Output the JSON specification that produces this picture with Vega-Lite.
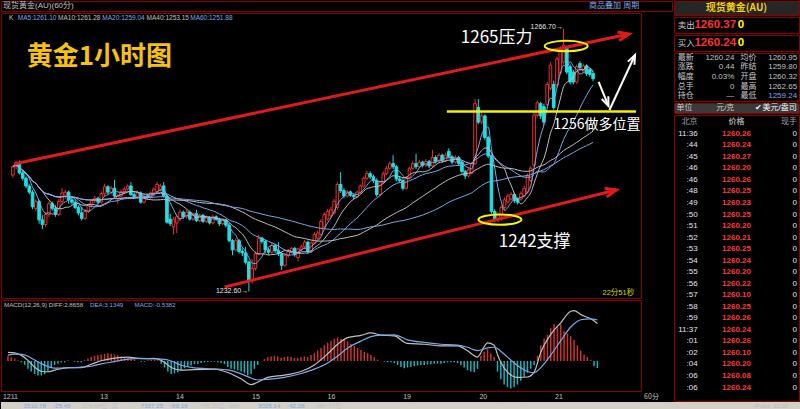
{
  "$schema": "https://vega.github.io/schema/vega-lite/v6.json",
  "background": "#000000",
  "padding": 0,
  "spacing": 0,
  "config": {
    "view": {"stroke": "#8c0000", "strokeWidth": 1},
    "concat": {"spacing": 0},
    "font": "Liberation Sans, Noto Sans CJK SC",
    "axis": {"labelFont": "Liberation Sans", "titleFont": "Noto Sans CJK SC"}
  },
  "datasets": {
    "bars": [
      {"i":0,"o":1247.7,"h":1249.0,"l":1247.4,"c":1248.8,"m":0.4},
      {"i":1,"o":1248.8,"h":1249.6,"l":1248.5,"c":1249.2,"m":0.3},
      {"i":2,"o":1249.2,"h":1249.6,"l":1247.8,"c":1248.0,"m":0.2},
      {"i":3,"o":1248.0,"h":1248.3,"l":1247.0,"c":1247.3,"m":0.05},
      {"i":4,"o":1247.3,"h":1247.5,"l":1246.0,"c":1246.3,"m":-0.1},
      {"i":5,"o":1246.3,"h":1246.6,"l":1245.2,"c":1245.5,"m":-0.3},
      {"i":6,"o":1245.5,"h":1245.8,"l":1243.3,"c":1243.6,"m":-0.6},
      {"i":7,"o":1243.4,"h":1244.6,"l":1243.0,"c":1244.3,"m":-0.8},
      {"i":8,"o":1244.3,"h":1244.5,"l":1241.4,"c":1241.9,"m":-1.0},
      {"i":9,"o":1241.9,"h":1242.5,"l":1240.7,"c":1241.3,"m":-1.1},
      {"i":10,"o":1241.3,"h":1242.9,"l":1241.0,"c":1242.6,"m":-1.1},
      {"i":11,"o":1242.6,"h":1244.3,"l":1242.3,"c":1244.0,"m":-1.0},
      {"i":12,"o":1244.0,"h":1244.3,"l":1243.1,"c":1243.4,"m":-0.8},
      {"i":13,"o":1243.4,"h":1243.8,"l":1242.3,"c":1242.6,"m":-0.5},
      {"i":14,"o":1242.6,"h":1244.6,"l":1242.4,"c":1244.3,"m":-0.3},
      {"i":15,"o":1244.3,"h":1246.0,"l":1244.0,"c":1245.4,"m":-0.2},
      {"i":16,"o":1245.0,"h":1245.8,"l":1244.6,"c":1245.5,"m":-0.1},
      {"i":17,"o":1245.5,"h":1245.7,"l":1244.0,"c":1244.5,"m":-0.1},
      {"i":18,"o":1244.5,"h":1244.9,"l":1243.9,"c":1244.2,"m":0.05},
      {"i":19,"o":1244.2,"h":1244.6,"l":1243.3,"c":1243.5,"m":0},
      {"i":20,"o":1243.5,"h":1243.8,"l":1242.5,"c":1242.8,"m":-0.05},
      {"i":21,"o":1242.8,"h":1243.6,"l":1241.8,"c":1242.1,"m":-0.1},
      {"i":22,"o":1242.1,"h":1243.3,"l":1241.9,"c":1243.0,"m":-0.1},
      {"i":23,"o":1243.0,"h":1244.0,"l":1242.8,"c":1243.8,"m":0.1},
      {"i":24,"o":1243.8,"h":1244.6,"l":1243.5,"c":1244.4,"m":0.2},
      {"i":25,"o":1244.4,"h":1245.0,"l":1244.1,"c":1244.7,"m":0.3},
      {"i":26,"o":1244.7,"h":1244.9,"l":1243.9,"c":1244.2,"m":0.4},
      {"i":27,"o":1244.2,"h":1245.6,"l":1244.0,"c":1245.3,"m":0.45},
      {"i":28,"o":1245.3,"h":1246.6,"l":1245.0,"c":1246.2,"m":0.5},
      {"i":29,"o":1246.2,"h":1246.4,"l":1245.2,"c":1245.5,"m":0.55},
      {"i":30,"o":1245.5,"h":1246.3,"l":1245.2,"c":1246.0,"m":0.6},
      {"i":31,"o":1246.0,"h":1247.1,"l":1244.8,"c":1245.0,"m":0.55},
      {"i":32,"o":1244.6,"h":1245.3,"l":1244.0,"c":1245.0,"m":0.5},
      {"i":33,"o":1245.0,"h":1245.8,"l":1244.8,"c":1245.6,"m":0.45},
      {"i":34,"o":1245.6,"h":1246.2,"l":1245.3,"c":1245.9,"m":0.35},
      {"i":35,"o":1245.9,"h":1246.5,"l":1245.7,"c":1246.3,"m":0.3},
      {"i":36,"o":1246.3,"h":1246.8,"l":1245.0,"c":1245.2,"m":0.25},
      {"i":37,"o":1245.2,"h":1245.5,"l":1244.6,"c":1244.9,"m":0.15},
      {"i":38,"o":1244.9,"h":1245.7,"l":1244.7,"c":1245.4,"m":0.1},
      {"i":39,"o":1245.4,"h":1245.6,"l":1244.0,"c":1244.2,"m":0},
      {"i":40,"o":1244.2,"h":1245.3,"l":1244.0,"c":1245.0,"m":-0.05},
      {"i":41,"o":1245.0,"h":1245.3,"l":1244.5,"c":1244.8,"m":-0.05},
      {"i":42,"o":1244.8,"h":1245.6,"l":1244.6,"c":1245.4,"m":0.05},
      {"i":43,"o":1245.4,"h":1246.1,"l":1245.2,"c":1245.9,"m":0.1},
      {"i":44,"o":1245.6,"h":1246.8,"l":1245.4,"c":1246.5,"m":0.1},
      {"i":45,"o":1245.8,"h":1246.6,"l":1245.6,"c":1246.3,"m":0.05},
      {"i":46,"o":1246.3,"h":1246.8,"l":1244.8,"c":1245.0,"m":-0.2},
      {"i":47,"o":1245.0,"h":1245.2,"l":1241.4,"c":1241.6,"m":-0.5},
      {"i":48,"o":1242.0,"h":1242.7,"l":1241.1,"c":1241.4,"m":-0.8},
      {"i":49,"o":1241.0,"h":1242.3,"l":1240.0,"c":1242.0,"m":-1.0},
      {"i":50,"o":1241.5,"h":1242.6,"l":1240.2,"c":1242.3,"m":-0.95},
      {"i":51,"o":1242.0,"h":1243.2,"l":1241.7,"c":1242.9,"m":-0.85},
      {"i":52,"o":1242.9,"h":1243.1,"l":1242.0,"c":1242.3,"m":-0.7},
      {"i":53,"o":1242.3,"h":1243.2,"l":1242.1,"c":1242.9,"m":-0.55},
      {"i":54,"o":1242.9,"h":1243.1,"l":1241.8,"c":1242.0,"m":-0.45},
      {"i":55,"o":1242.0,"h":1242.9,"l":1241.8,"c":1242.7,"m":-0.35},
      {"i":56,"o":1242.7,"h":1243.2,"l":1241.6,"c":1241.8,"m":-0.25},
      {"i":57,"o":1241.8,"h":1242.7,"l":1241.6,"c":1242.5,"m":-0.2},
      {"i":58,"o":1242.5,"h":1242.7,"l":1241.5,"c":1241.7,"m":-0.15},
      {"i":59,"o":1241.7,"h":1242.5,"l":1241.5,"c":1242.2,"m":-0.1},
      {"i":60,"o":1242.2,"h":1242.4,"l":1241.3,"c":1241.5,"m":-0.08},
      {"i":61,"o":1241.5,"h":1242.6,"l":1241.3,"c":1242.3,"m":-0.05},
      {"i":62,"o":1242.3,"h":1242.5,"l":1241.8,"c":1242.0,"m":-0.05},
      {"i":63,"o":1242.0,"h":1242.2,"l":1241.1,"c":1241.4,"m":-0.1},
      {"i":64,"o":1241.4,"h":1242.1,"l":1241.2,"c":1241.9,"m":-0.15},
      {"i":65,"o":1241.9,"h":1242.0,"l":1240.9,"c":1241.2,"m":-0.25},
      {"i":66,"o":1241.2,"h":1241.5,"l":1239.0,"c":1239.2,"m":-0.45},
      {"i":67,"o":1239.2,"h":1239.4,"l":1237.3,"c":1238.0,"m":-0.6},
      {"i":68,"o":1238.0,"h":1239.5,"l":1237.8,"c":1239.2,"m":-0.65},
      {"i":69,"o":1239.2,"h":1239.4,"l":1237.5,"c":1237.8,"m":-0.7},
      {"i":70,"o":1237.8,"h":1238.2,"l":1237.2,"c":1237.6,"m":-0.8},
      {"i":71,"o":1237.6,"h":1238.4,"l":1236.1,"c":1236.4,"m":-0.9},
      {"i":72,"o":1236.4,"h":1236.6,"l":1232.6,"c":1234.0,"m":-1.1},
      {"i":73,"o":1234.0,"h":1236.8,"l":1233.6,"c":1235.6,"m":-1.0},
      {"i":74,"o":1235.6,"h":1237.8,"l":1235.3,"c":1237.5,"m":-0.6},
      {"i":75,"o":1237.5,"h":1240.0,"l":1237.3,"c":1239.5,"m":-0.3},
      {"i":76,"o":1239.5,"h":1239.7,"l":1238.8,"c":1239.1,"m":0},
      {"i":77,"o":1239.1,"h":1239.3,"l":1237.6,"c":1238.0,"m":0.15},
      {"i":78,"o":1238.0,"h":1238.3,"l":1237.4,"c":1237.7,"m":0.3},
      {"i":79,"o":1237.7,"h":1238.9,"l":1237.5,"c":1238.6,"m":0.35},
      {"i":80,"o":1238.6,"h":1238.8,"l":1237.6,"c":1237.9,"m":0.4},
      {"i":81,"o":1237.9,"h":1239.0,"l":1237.2,"c":1237.5,"m":0.35},
      {"i":82,"o":1237.5,"h":1237.7,"l":1235.4,"c":1236.0,"m":0.25},
      {"i":83,"o":1236.0,"h":1237.5,"l":1235.8,"c":1237.3,"m":0.3},
      {"i":84,"o":1237.3,"h":1238.1,"l":1237.0,"c":1237.8,"m":0.35},
      {"i":85,"o":1237.8,"h":1238.4,"l":1237.6,"c":1238.2,"m":0.3},
      {"i":86,"o":1238.2,"h":1238.4,"l":1237.1,"c":1237.4,"m":0.25},
      {"i":87,"o":1237.0,"h":1238.3,"l":1236.5,"c":1238.1,"m":0.25},
      {"i":88,"o":1238.1,"h":1238.7,"l":1237.8,"c":1238.4,"m":0.3},
      {"i":89,"o":1238.4,"h":1239.3,"l":1238.1,"c":1239.0,"m":0.35},
      {"i":90,"o":1239.0,"h":1239.2,"l":1237.5,"c":1237.8,"m":0.3},
      {"i":91,"o":1237.8,"h":1239.1,"l":1237.6,"c":1238.9,"m":0.45},
      {"i":92,"o":1238.9,"h":1240.3,"l":1238.7,"c":1240.0,"m":0.6},
      {"i":93,"o":1239.5,"h":1240.5,"l":1239.3,"c":1240.2,"m":0.8},
      {"i":94,"o":1240.0,"h":1242.0,"l":1239.8,"c":1241.7,"m":1.0},
      {"i":95,"o":1241.0,"h":1242.9,"l":1240.8,"c":1242.6,"m":1.2},
      {"i":96,"o":1242.0,"h":1243.3,"l":1241.8,"c":1243.0,"m":1.4},
      {"i":97,"o":1242.5,"h":1243.6,"l":1242.2,"c":1243.2,"m":1.55},
      {"i":98,"o":1242.8,"h":1244.6,"l":1242.6,"c":1244.3,"m":1.7},
      {"i":99,"o":1243.5,"h":1246.8,"l":1243.2,"c":1246.5,"m":1.8},
      {"i":100,"o":1246.5,"h":1248.1,"l":1245.4,"c":1245.7,"m":1.7},
      {"i":101,"o":1245.7,"h":1246.0,"l":1244.7,"c":1245.0,"m":1.6},
      {"i":102,"o":1245.0,"h":1245.8,"l":1244.8,"c":1245.5,"m":1.5},
      {"i":103,"o":1245.5,"h":1245.7,"l":1244.9,"c":1245.1,"m":1.3},
      {"i":104,"o":1245.1,"h":1245.3,"l":1244.6,"c":1244.9,"m":1.15},
      {"i":105,"o":1244.9,"h":1245.7,"l":1244.7,"c":1245.5,"m":1.0},
      {"i":106,"o":1245.5,"h":1246.5,"l":1245.3,"c":1246.3,"m":0.85},
      {"i":107,"o":1246.3,"h":1247.5,"l":1246.1,"c":1247.3,"m":0.7},
      {"i":108,"o":1247.3,"h":1248.3,"l":1247.1,"c":1247.9,"m":0.6},
      {"i":109,"o":1247.9,"h":1248.2,"l":1247.2,"c":1247.5,"m":0.45},
      {"i":110,"o":1247.5,"h":1247.8,"l":1246.7,"c":1247.0,"m":0.3},
      {"i":111,"o":1247.0,"h":1247.3,"l":1244.9,"c":1245.2,"m":0.1},
      {"i":112,"o":1245.2,"h":1247.0,"l":1245.0,"c":1246.8,"m":0},
      {"i":113,"o":1246.8,"h":1248.2,"l":1246.6,"c":1247.9,"m":-0.05},
      {"i":114,"o":1247.9,"h":1248.9,"l":1247.7,"c":1248.6,"m":-0.1},
      {"i":115,"o":1248.6,"h":1249.5,"l":1248.4,"c":1249.2,"m":-0.1},
      {"i":116,"o":1249.2,"h":1250.3,"l":1248.5,"c":1248.8,"m":-0.15},
      {"i":117,"o":1248.8,"h":1249.0,"l":1246.9,"c":1247.2,"m":-0.3},
      {"i":118,"o":1247.2,"h":1247.6,"l":1246.7,"c":1247.0,"m":-0.45},
      {"i":119,"o":1247.0,"h":1247.3,"l":1245.7,"c":1246.0,"m":-0.55},
      {"i":120,"o":1246.0,"h":1247.6,"l":1245.8,"c":1247.4,"m":-0.5},
      {"i":121,"o":1247.4,"h":1248.8,"l":1247.2,"c":1248.6,"m":-0.45},
      {"i":122,"o":1248.6,"h":1249.5,"l":1248.4,"c":1249.2,"m":-0.4},
      {"i":123,"o":1249.2,"h":1250.5,"l":1248.5,"c":1248.8,"m":-0.35},
      {"i":124,"o":1248.8,"h":1249.7,"l":1248.6,"c":1249.4,"m":-0.3},
      {"i":125,"o":1249.4,"h":1249.6,"l":1248.7,"c":1249.0,"m":-0.3},
      {"i":126,"o":1249.0,"h":1249.8,"l":1248.8,"c":1249.5,"m":-0.25},
      {"i":127,"o":1249.5,"h":1249.7,"l":1248.6,"c":1248.9,"m":-0.25},
      {"i":128,"o":1248.9,"h":1251.0,"l":1248.7,"c":1250.0,"m":-0.2},
      {"i":129,"o":1250.0,"h":1250.3,"l":1249.2,"c":1249.5,"m":-0.2},
      {"i":130,"o":1249.5,"h":1250.6,"l":1249.3,"c":1250.3,"m":-0.2},
      {"i":131,"o":1250.3,"h":1250.5,"l":1249.3,"c":1249.6,"m":-0.15},
      {"i":132,"o":1249.6,"h":1250.6,"l":1249.4,"c":1250.3,"m":-0.1},
      {"i":133,"o":1250.8,"h":1251.2,"l":1249.9,"c":1250.1,"m":-0.1},
      {"i":134,"o":1250.1,"h":1250.3,"l":1249.1,"c":1249.4,"m":-0.1},
      {"i":135,"o":1249.4,"h":1250.3,"l":1249.2,"c":1250.0,"m":-0.15},
      {"i":136,"o":1250.0,"h":1250.2,"l":1248.9,"c":1249.2,"m":-0.3},
      {"i":137,"o":1249.4,"h":1249.6,"l":1247.9,"c":1248.2,"m":-0.5},
      {"i":138,"o":1248.2,"h":1248.4,"l":1247.2,"c":1247.6,"m":-0.7},
      {"i":139,"o":1247.6,"h":1248.6,"l":1247.4,"c":1248.4,"m":-0.8},
      {"i":140,"o":1248.0,"h":1249.4,"l":1247.8,"c":1249.2,"m":-0.85},
      {"i":141,"o":1249.2,"h":1257.6,"l":1249.0,"c":1257.0,"m":-0.6},
      {"i":142,"o":1256.5,"h":1257.6,"l":1254.3,"c":1254.6,"m":0.4},
      {"i":143,"o":1254.6,"h":1255.8,"l":1254.3,"c":1255.4,"m":0.7},
      {"i":144,"o":1255.4,"h":1255.6,"l":1252.3,"c":1252.6,"m":0.9},
      {"i":145,"o":1252.6,"h":1252.8,"l":1249.9,"c":1250.2,"m":0.6},
      {"i":146,"o":1250.2,"h":1250.4,"l":1242.7,"c":1243.0,"m":0.3},
      {"i":147,"o":1243.0,"h":1243.3,"l":1241.6,"c":1242.0,"m":-0.8},
      {"i":148,"o":1241.9,"h":1242.9,"l":1241.6,"c":1242.6,"m":-1.4},
      {"i":149,"o":1242.6,"h":1243.8,"l":1241.8,"c":1243.5,"m":-1.8},
      {"i":150,"o":1243.5,"h":1244.8,"l":1243.2,"c":1244.5,"m":-2.0},
      {"i":151,"o":1244.2,"h":1245.3,"l":1244.0,"c":1245.0,"m":-2.1},
      {"i":152,"o":1244.6,"h":1245.5,"l":1244.4,"c":1245.2,"m":-2.0},
      {"i":153,"o":1245.2,"h":1245.4,"l":1244.1,"c":1244.4,"m":-1.8},
      {"i":154,"o":1244.6,"h":1244.8,"l":1243.9,"c":1244.2,"m":-1.5},
      {"i":155,"o":1244.6,"h":1245.6,"l":1244.4,"c":1245.3,"m":-1.2},
      {"i":156,"o":1245.0,"h":1246.3,"l":1244.8,"c":1246.0,"m":-0.9},
      {"i":157,"o":1245.5,"h":1247.9,"l":1245.3,"c":1247.6,"m":-0.6},
      {"i":158,"o":1247.0,"h":1248.9,"l":1246.8,"c":1248.6,"m":-0.3},
      {"i":159,"o":1249.0,"h":1256.0,"l":1248.8,"c":1255.5,"m":0.4},
      {"i":160,"o":1255.5,"h":1257.4,"l":1255.2,"c":1257.1,"m":1.2},
      {"i":161,"o":1257.0,"h":1257.2,"l":1255.0,"c":1255.4,"m":1.7},
      {"i":162,"o":1256.6,"h":1257.0,"l":1254.2,"c":1254.6,"m":2.0},
      {"i":163,"o":1256.9,"h":1259.8,"l":1256.6,"c":1259.5,"m":2.5},
      {"i":164,"o":1259.0,"h":1262.4,"l":1258.7,"c":1262.0,"m":2.8},
      {"i":165,"o":1259.5,"h":1260.0,"l":1256.2,"c":1256.5,"m":2.6},
      {"i":166,"o":1259.4,"h":1263.1,"l":1259.1,"c":1262.8,"m":2.8},
      {"i":167,"o":1261.0,"h":1264.4,"l":1260.7,"c":1264.0,"m":2.3},
      {"i":168,"o":1262.4,"h":1266.7,"l":1262.1,"c":1264.6,"m":2.1},
      {"i":169,"o":1264.2,"h":1264.5,"l":1260.8,"c":1261.1,"m":1.9},
      {"i":170,"o":1261.8,"h":1262.1,"l":1259.5,"c":1259.8,"m":1.6},
      {"i":171,"o":1261.1,"h":1261.4,"l":1259.5,"c":1259.8,"m":1.2},
      {"i":172,"o":1259.8,"h":1262.1,"l":1259.6,"c":1261.8,"m":0.8},
      {"i":173,"o":1262.2,"h":1262.5,"l":1261.3,"c":1261.7,"m":0.5},
      {"i":174,"o":1261.3,"h":1262.2,"l":1261.0,"c":1261.9,"m":0.3},
      {"i":175,"o":1261.9,"h":1262.1,"l":1260.6,"c":1260.9,"m":0.1},
      {"i":176,"o":1261.4,"h":1261.6,"l":1260.5,"c":1260.8,"m":-0.4},
      {"i":177,"o":1260.9,"h":1261.2,"l":1259.9,"c":1260.24,"m":-0.54}
    ],
    "macd": [
      {"i":0,"DIFF":0.66,"DEA":0.45},{"i":2,"DIFF":0.62,"DEA":0.52},{"i":4,"DIFF":0.43,"DEA":0.5},
      {"i":6,"DIFF":0.05,"DEA":0.36},{"i":8,"DIFF":-0.47,"DEA":0.08},{"i":10,"DIFF":-0.78,"DEA":-0.2},
      {"i":12,"DIFF":-0.82,"DEA":-0.42},{"i":14,"DIFF":-0.7,"DEA":-0.55},{"i":18,"DIFF":-0.5,"DEA":-0.52},
      {"i":22,"DIFF":-0.5,"DEA":-0.47},{"i":25,"DIFF":-0.25,"DEA":-0.4},{"i":28,"DIFF":0.02,"DEA":-0.22},
      {"i":32,"DIFF":0.22,"DEA":-0.05},{"i":36,"DIFF":0.3,"DEA":0.14},{"i":40,"DIFF":0.18,"DEA":0.2},
      {"i":44,"DIFF":0.2,"DEA":0.17},{"i":47,"DIFF":-0.1,"DEA":0.12},{"i":49,"DIFF":-0.5,"DEA":0.0},
      {"i":52,"DIFF":-0.7,"DEA":-0.32},{"i":56,"DIFF":-0.65,"DEA":-0.52},{"i":62,"DIFF":-0.63,"DEA":-0.6},
      {"i":66,"DIFF":-0.88,"DEA":-0.68},{"i":70,"DIFF":-1.36,"DEA":-0.98},{"i":73,"DIFF":-1.8,"DEA":-1.3},
      {"i":75,"DIFF":-1.62,"DEA":-1.45},{"i":78,"DIFF":-1.25,"DEA":-1.4},{"i":83,"DIFF":-1.08,"DEA":-1.25},
      {"i":88,"DIFF":-0.8,"DEA":-0.95},{"i":92,"DIFF":-0.3,"DEA":-0.62},{"i":96,"DIFF":0.55,"DEA":-0.15},
      {"i":99,"DIFF":1.28,"DEA":0.38},{"i":102,"DIFF":1.79,"DEA":1.0},{"i":106,"DIFF":1.96,"DEA":1.52},
      {"i":109,"DIFF":2.15,"DEA":1.86},{"i":112,"DIFF":1.98,"DEA":1.97},{"i":116,"DIFF":1.92,"DEA":1.99},
      {"i":120,"DIFF":1.34,"DEA":1.62},{"i":125,"DIFF":1.28,"DEA":1.42},{"i":130,"DIFF":1.16,"DEA":1.28},
      {"i":135,"DIFF":1.16,"DEA":1.21},{"i":138,"DIFF":0.78,"DEA":1.05},{"i":141,"DIFF":0.3,"DEA":0.8},
      {"i":143,"DIFF":1.1,"DEA":0.92},{"i":144,"DIFF":1.38,"DEA":1.0},{"i":146,"DIFF":1.2,"DEA":1.05},
      {"i":147,"DIFF":0.5,"DEA":0.95},{"i":148,"DIFF":-0.1,"DEA":0.75},{"i":150,"DIFF":-0.85,"DEA":0.3},
      {"i":153,"DIFF":-1.25,"DEA":-0.35},{"i":156,"DIFF":-1.22,"DEA":-0.8},{"i":158,"DIFF":-0.85,"DEA":-0.9},
      {"i":160,"DIFF":0.66,"DEA":-0.5},{"i":163,"DIFF":2.04,"DEA":0.45},{"i":166,"DIFF":2.92,"DEA":1.55},
      {"i":169,"DIFF":3.8,"DEA":2.6},{"i":170,"DIFF":3.85,"DEA":2.85},{"i":172,"DIFF":3.55,"DEA":3.15},
      {"i":175,"DIFF":3.22,"DEA":3.22},{"i":177,"DIFF":2.8658,"DEA":3.1349}
    ],
    "lines": [
      {"g":"upper","i":0.3,"p":1249.15},{"g":"upper","i":188.0,"p":1266.04},
      {"g":"lower","i":64.6,"p":1233.18},{"g":"lower","i":184.1,"p":1245.78},
      {"g":"level","i":132.4,"p":1255.97},{"g":"level","i":190.1,"p":1255.97},
      {"g":"down","i":178.7,"p":1259.81},{"g":"down","i":181.7,"p":1256.69},
      {"g":"rise","i":182.0,"p":1256.17},{"g":"rise","i":189.8,"p":1263.31}
    ],
    "heads": [
      {"g":"upper","i":188.0,"p":1266.04},
      {"g":"lower","i":184.1,"p":1245.78},
      {"g":"down","i":181.7,"p":1256.69},
      {"g":"rise","i":189.8,"p":1263.31}
    ],
    "rings": [
      {"k":"top","i":168.8,"p":1264.48},
      {"k":"bottom","i":148.6,"p":1241.94}
    ],
    "notes": [
      {"k":"title","t":"黄金1小时图","i":26.4,"p":1262.99},
      {"k":"resist","t":"1265压力","i":147.6,"p":1265.46},
      {"k":"support","t":"1242支撑","i":159.2,"p":1239.02},
      {"k":"entry","t":"1256做多位置","i":178.2,"p":1254.22},
      {"k":"mark","t":"1266.70→","i":167.8,"p":1266.95},
      {"k":"mark","t":"1232.60→","i":71.8,"p":1232.66},
      {"k":"timer","t":"22分51秒","i":184.7,"p":1232.45}
    ],
    "malegend": [
      {"s":"K","t":"K","i":-1.2,"p":1268.1},
      {"s":"MA5","t":"MA5:1261.10","i":1.5,"p":1268.1},
      {"s":"MA10","t":"MA10:1261.28","i":13.8,"p":1268.1},
      {"s":"MA20","t":"MA20:1259.04","i":27.3,"p":1268.1},
      {"s":"MA40","t":"MA40:1253.15","i":40.8,"p":1268.1},
      {"s":"MA60","t":"MA60:1251.88","i":54.1,"p":1268.1}
    ],
    "ticks": [
      {"k":0,"tm":"北京","p":"价格","q":"现手"},
      {"k":1,"tm":"11:36","p":"1260.26","q":"0"},
      {"k":2,"tm":":44","p":"1260.24","q":"0"},
      {"k":3,"tm":":45","p":"1260.27","q":"0"},
      {"k":4,"tm":":46","p":"1260.20","q":"0"},
      {"k":5,"tm":":46","p":"1260.26","q":"0"},
      {"k":6,"tm":":48","p":"1260.25","q":"0"},
      {"k":7,"tm":":49","p":"1260.23","q":"0"},
      {"k":8,"tm":":50","p":"1260.25","q":"0"},
      {"k":9,"tm":":51","p":"1260.20","q":"0"},
      {"k":10,"tm":":52","p":"1260.21","q":"0"},
      {"k":11,"tm":":53","p":"1260.25","q":"0"},
      {"k":12,"tm":":54","p":"1260.24","q":"0"},
      {"k":13,"tm":":55","p":"1260.20","q":"0"},
      {"k":14,"tm":":56","p":"1260.22","q":"0"},
      {"k":15,"tm":":57","p":"1260.10","q":"0"},
      {"k":16,"tm":":58","p":"1260.25","q":"0"},
      {"k":17,"tm":":59","p":"1260.26","q":"0"},
      {"k":18,"tm":"11:37","p":"1260.24","q":"0"},
      {"k":19,"tm":":01","p":"1260.26","q":"0"},
      {"k":20,"tm":":02","p":"1260.10","q":"0"},
      {"k":21,"tm":":04","p":"1260.20","q":"0"},
      {"k":22,"tm":":06","p":"1260.08","q":"0"},
      {"k":23,"tm":":06","p":"1260.24","q":"0"}
    ]
  },
  "vconcat": [
    {
      "spacing": 0,
      "hconcat": [
        {
          "spacing": 0,
          "vconcat": [
            {
              "width": 671, "height": 10,
              "data": {"values": [{"g":"name","t":"现货黄金(AU)(60分)"},{"g":"tools","t":"商品叠加  周期"}]},
              "mark": {"type": "text", "align": "left", "baseline": "middle", "fontSize": 8},
              "encoding": {
                "x": {"field": "g", "type": "nominal", "bandPosition": 0, "scale": {"type": "band", "domain": ["name","tools"], "paddingInner": 0.862, "paddingOuter": 0.0035}, "axis": null},
                "text": {"field": "t"},
                "color": {"field": "g", "type": "nominal", "scale": {"domain": ["name","tools"], "range": ["#c0c0c0","#7fa7e8"]}, "legend": null}
              }
            },
            {
              "width": 640, "height": 285,
              "encoding": {
                "x": {"field": "i", "type": "quantitative", "scale": {"domain": [-2.1, 190.1], "nice": false, "zero": false}, "axis": null}
              },
              "layer": [
                {
                  "data": {"name": "bars"},
                  "mark": {"type": "rule", "strokeWidth": 1},
                  "encoding": {
                    "y": {"field": "l", "type": "quantitative", "title": null,
                      "scale": {"domain": [1231.75, 1268.77], "nice": false, "zero": false},
                      "axis": {"orient": "right", "values": [1235,1240,1245,1250,1255,1260,1265], "grid": true, "gridColor": "#4d0000", "domain": false, "ticks": false, "labelColor": "#c8c8c8", "labelFontSize": 8, "labelPadding": 4, "minExtent": 31, "maxExtent": 31}},
                    "y2": {"field": "h"},
                    "color": {"condition": {"test": "datum.c >= datum.o", "value": "#e8312f"}, "value": "#1fe0e3"}
                  }
                },
                {
                  "data": {"name": "bars"},
                  "mark": {"type": "bar", "size": 2.6, "strokeWidth": 1},
                  "encoding": {
                    "y": {"field": "o", "type": "quantitative", "scale": {"domain": [1231.75, 1268.77], "nice": false, "zero": false}, "axis": null},
                    "y2": {"field": "c"},
                    "fill": {"condition": {"test": "datum.c >= datum.o", "value": "#000000"}, "value": "#1fe0e3"},
                    "stroke": {"condition": {"test": "datum.c >= datum.o", "value": "#e8312f"}, "value": "#1fe0e3"}
                  }
                },
                {
                  "data": {"name": "bars"},
                  "transform": [
                    {"window": [{"op": "mean", "field": "c", "as": "MA5"}], "frame": [-4, 0], "sort": [{"field": "i"}]},
                    {"window": [{"op": "mean", "field": "c", "as": "MA10"}], "frame": [-9, 0], "sort": [{"field": "i"}]},
                    {"window": [{"op": "mean", "field": "c", "as": "MA20"}], "frame": [-19, 0], "sort": [{"field": "i"}]},
                    {"window": [{"op": "mean", "field": "c", "as": "MA40"}], "frame": [-39, 0], "sort": [{"field": "i"}]},
                    {"window": [{"op": "mean", "field": "c", "as": "MA60"}], "frame": [-59, 0], "sort": [{"field": "i"}]},
                    {"fold": ["MA5","MA10","MA20","MA40","MA60"], "as": ["s","v"]}
                  ],
                  "mark": {"type": "line", "strokeWidth": 1, "interpolate": "monotone"},
                  "encoding": {
                    "y": {"field": "v", "type": "quantitative", "scale": {"domain": [1231.75, 1268.77], "nice": false, "zero": false}, "axis": null},
                    "color": {"field": "s", "type": "nominal", "scale": {"domain": ["K","MA5","MA10","MA20","MA40","MA60"], "range": ["#d0d0d0","#d0d0d0","#d4d400","#d000d0","#10b010","#5a5ac8"]}, "legend": null}
                  }
                },
                {
                  "data": {"name": "lines"},
                  "transform": [{"filter": "datum.g == 'upper' || datum.g == 'lower'"}],
                  "mark": {"type": "line", "color": "#e01b1b", "strokeWidth": 3},
                  "encoding": {
                    "y": {"field": "p", "type": "quantitative", "scale": {"domain": [1231.75, 1268.77], "nice": false, "zero": false}, "axis": null},
                    "detail": {"field": "g"}
                  }
                },
                {
                  "data": {"name": "lines"},
                  "transform": [{"filter": "datum.g == 'level'"}],
                  "mark": {"type": "line", "color": "#f2f200", "strokeWidth": 2.5},
                  "encoding": {
                    "y": {"field": "p", "type": "quantitative", "scale": {"domain": [1231.75, 1268.77], "nice": false, "zero": false}, "axis": null}
                  }
                },
                {
                  "data": {"name": "lines"},
                  "transform": [{"filter": "datum.g == 'down' || datum.g == 'rise'"}],
                  "mark": {"type": "line", "color": "#ffffff", "strokeWidth": 2},
                  "encoding": {
                    "y": {"field": "p", "type": "quantitative", "scale": {"domain": [1231.75, 1268.77], "nice": false, "zero": false}, "axis": null},
                    "detail": {"field": "g"}
                  }
                },
                {
                  "data": {"name": "heads"},
                  "transform": [{"filter": "datum.g == 'upper'"}],
                  "mark": {"type": "point", "shape": "M-0.8,2L0,0L0.8,2", "filled": false, "stroke": "#e01b1b", "strokeWidth": 3, "size": 121, "angle": 78.2, "opacity": 1},
                  "encoding": {"y": {"field": "p", "type": "quantitative", "scale": {"domain": [1231.75, 1268.77], "nice": false, "zero": false}, "axis": null}}
                },
                {
                  "data": {"name": "heads"},
                  "transform": [{"filter": "datum.g == 'lower'"}],
                  "mark": {"type": "point", "shape": "M-0.8,2L0,0L0.8,2", "filled": false, "stroke": "#e01b1b", "strokeWidth": 3, "size": 121, "angle": 76.3, "opacity": 1},
                  "encoding": {"y": {"field": "p", "type": "quantitative", "scale": {"domain": [1231.75, 1268.77], "nice": false, "zero": false}, "axis": null}}
                },
                {
                  "data": {"name": "heads"},
                  "transform": [{"filter": "datum.g == 'down'"}],
                  "mark": {"type": "point", "shape": "M-0.8,2L0,0L0.8,2", "filled": false, "stroke": "#ffffff", "strokeWidth": 2, "size": 81, "angle": 157.4, "opacity": 1},
                  "encoding": {"y": {"field": "p", "type": "quantitative", "scale": {"domain": [1231.75, 1268.77], "nice": false, "zero": false}, "axis": null}}
                },
                {
                  "data": {"name": "heads"},
                  "transform": [{"filter": "datum.g == 'rise'"}],
                  "mark": {"type": "point", "shape": "M-0.8,2L0,0L0.8,2", "filled": false, "stroke": "#ffffff", "strokeWidth": 2, "size": 81, "angle": 25.3, "opacity": 1},
                  "encoding": {"y": {"field": "p", "type": "quantitative", "scale": {"domain": [1231.75, 1268.77], "nice": false, "zero": false}, "axis": null}}
                },
                {
                  "data": {"name": "rings"},
                  "mark": {"type": "point", "shape": "M-1,0A1,0.24,0,1,1,1,0A1,0.24,0,1,1,-1,0Z", "filled": false, "stroke": "#f5f500", "strokeWidth": 2, "size": 1849, "opacity": 1},
                  "encoding": {"y": {"field": "p", "type": "quantitative", "scale": {"domain": [1231.75, 1268.77], "nice": false, "zero": false}, "axis": null}}
                },
                {
                  "data": {"name": "notes"},
                  "transform": [{"filter": "datum.k == 'title'"}],
                  "mark": {"type": "text", "font": "Noto Sans CJK SC", "fontWeight": "bold", "fontSize": 26, "color": "#f5c20f", "align": "center", "baseline": "middle"},
                  "encoding": {"y": {"field": "p", "type": "quantitative", "scale": {"domain": [1231.75, 1268.77], "nice": false, "zero": false}, "axis": null}, "text": {"field": "t"}}
                },
                {
                  "data": {"name": "notes"},
                  "transform": [{"filter": "datum.k == 'resist'"}],
                  "mark": {"type": "text", "font": "Noto Sans CJK SC", "fontSize": 17, "color": "#ffffff", "align": "center", "baseline": "middle"},
                  "encoding": {"y": {"field": "p", "type": "quantitative", "scale": {"domain": [1231.75, 1268.77], "nice": false, "zero": false}, "axis": null}, "text": {"field": "t"}}
                },
                {
                  "data": {"name": "notes"},
                  "transform": [{"filter": "datum.k == 'support'"}],
                  "mark": {"type": "text", "font": "Noto Sans CJK SC", "fontSize": 17, "color": "#ffffff", "align": "center", "baseline": "middle"},
                  "encoding": {"y": {"field": "p", "type": "quantitative", "scale": {"domain": [1231.75, 1268.77], "nice": false, "zero": false}, "axis": null}, "text": {"field": "t"}}
                },
                {
                  "data": {"name": "notes"},
                  "transform": [{"filter": "datum.k == 'entry'"}],
                  "mark": {"type": "text", "font": "Noto Sans CJK SC", "fontSize": 14, "color": "#ffffff", "align": "center", "baseline": "middle"},
                  "encoding": {"y": {"field": "p", "type": "quantitative", "scale": {"domain": [1231.75, 1268.77], "nice": false, "zero": false}, "axis": null}, "text": {"field": "t"}}
                },
                {
                  "data": {"name": "notes"},
                  "transform": [{"filter": "datum.k == 'mark'"}],
                  "mark": {"type": "text", "fontSize": 7, "color": "#e6e6e6", "align": "right", "baseline": "middle"},
                  "encoding": {"y": {"field": "p", "type": "quantitative", "scale": {"domain": [1231.75, 1268.77], "nice": false, "zero": false}, "axis": null}, "text": {"field": "t"}}
                },
                {
                  "data": {"name": "notes"},
                  "transform": [{"filter": "datum.k == 'timer'"}],
                  "mark": {"type": "text", "fontSize": 7.5, "color": "#d8d800", "align": "center", "baseline": "middle"},
                  "encoding": {"y": {"field": "p", "type": "quantitative", "scale": {"domain": [1231.75, 1268.77], "nice": false, "zero": false}, "axis": null}, "text": {"field": "t"}}
                },
                {
                  "data": {"name": "malegend"},
                  "mark": {"type": "text", "fontSize": 6.5, "align": "left", "baseline": "middle"},
                  "encoding": {
                    "y": {"field": "p", "type": "quantitative", "scale": {"domain": [1231.75, 1268.77], "nice": false, "zero": false}, "axis": null},
                    "text": {"field": "t"},
                    "color": {"field": "s", "type": "nominal", "scale": {"domain": ["K","MA5","MA10","MA20","MA40","MA60"], "range": ["#d0d0d0","#d0d0d0","#d4d400","#d000d0","#10b010","#5a5ac8"]}, "legend": null}
                  }
                }
              ]
            },
            {
              "width": 640, "height": 91,
              "encoding": {
                "x": {"field": "i", "type": "quantitative", "title": "60分",
                  "scale": {"domain": [-2.1, 190.1], "nice": false, "zero": false},
                  "axis": {"orient": "bottom", "values": [0.6, 28.7, 51.5, 74.3, 97, 119.7, 142.6, 165.3],
                    "labelExpr": "datum.value < 10 ? '1211' : datum.value < 40 ? '13' : datum.value < 60 ? '14' : datum.value < 85 ? '15' : datum.value < 110 ? '16' : datum.value < 130 ? '19' : datum.value < 150 ? '20' : '21'",
                    "grid": false, "domain": false, "ticks": false, "labelColor": "#c0c0c0", "labelFontSize": 7, "labelPadding": 1,
                    "titleX": 650, "titleY": 5, "titleBaseline": "middle", "titleAlign": "center", "titleColor": "#c0c0c0", "titleFontSize": 7, "titleFontWeight": "normal"}}
              },
              "layer": [
                {
                  "data": {"name": "bars"},
                  "mark": {"type": "rule", "strokeWidth": 1.5},
                  "encoding": {
                    "y": {"field": "m", "type": "quantitative", "title": null,
                      "scale": {"domain": [-2.29, 4.66], "nice": false, "zero": false},
                      "axis": {"orient": "right", "values": [0, 2], "labelExpr": "datum.value == 0 ? '0' : format(datum.value, '.1f')", "grid": true, "gridColor": "#4d0000", "domain": false, "ticks": false, "labelColor": "#c8c8c8", "labelFontSize": 8, "labelPadding": 4, "minExtent": 31, "maxExtent": 31}},
                    "y2": {"datum": 0},
                    "color": {"condition": {"test": "datum.m > 0", "value": "#c83232"}, "value": "#1fb0b8"}
                  }
                },
                {
                  "data": {"name": "macd"},
                  "transform": [{"fold": ["DIFF","DEA"], "as": ["s","v"]}],
                  "mark": {"type": "line", "strokeWidth": 1.2, "interpolate": "monotone"},
                  "encoding": {
                    "y": {"field": "v", "type": "quantitative", "scale": {"domain": [-2.29, 4.66], "nice": false, "zero": false}, "axis": null},
                    "color": {"field": "s", "type": "nominal", "scale": {"domain": ["DIFF","DEA","MH","MV"], "range": ["#d0d0d0","#d8d800","#d0d0d0","#c8c8c8"]}, "legend": null}
                  }
                },
                {
                  "data": {"values": [
                    {"s":"MH","t":"MACD(12,26,9) DIFF:2.8658","i":-1.2,"v":4.28},
                    {"s":"DEA","t":"DEA:3.1349","i":24.6,"v":4.28},
                    {"s":"MV","t":"MACD:-0.5382","i":38.0,"v":4.28}
                  ]},
                  "mark": {"type": "text", "fontSize": 6.2, "align": "left", "baseline": "middle"},
                  "encoding": {
                    "y": {"field": "v", "type": "quantitative", "scale": {"domain": [-2.29, 4.66], "nice": false, "zero": false}, "axis": null},
                    "text": {"field": "t"},
                    "color": {"field": "s", "type": "nominal", "scale": {"domain": ["DIFF","DEA","MH","MV"], "range": ["#d0d0d0","#d8d800","#d0d0d0","#c8c8c8"]}, "legend": null}
                  }
                }
              ]
            }
          ]
        },
        {
          "spacing": 0,
          "vconcat": [
            {
              "width": 125, "height": 14,
              "view": {"fill": "#262626", "stroke": "#8c0000"},
              "data": {"values": [{"t": "现货黄金(AU)"}]},
              "mark": {"type": "text", "font": "Noto Sans CJK SC", "fontWeight": "bold", "fontSize": 10, "color": "#f5d000", "align": "center", "baseline": "middle"},
              "encoding": {"text": {"field": "t"}}
            },
            {
              "width": 125, "height": 16,
              "data": {"values": [{"lab": "卖出", "price": "1260.37", "qty": "0"}]},
              "layer": [
                {"mark": {"type": "text", "fontSize": 8.5, "color": "#c8c8c8", "align": "left", "baseline": "middle"},
                 "encoding": {"x": {"field": "lab", "type": "nominal", "bandPosition": 0.03, "scale": {"type": "band", "paddingInner": 0, "paddingOuter": 0}, "axis": null}, "text": {"field": "lab"}}},
                {"mark": {"type": "text", "fontSize": 11.5, "fontWeight": "bold", "color": "#ff3030", "align": "center", "baseline": "middle"},
                 "encoding": {"x": {"field": "lab", "type": "nominal", "bandPosition": 0.33, "scale": {"type": "band", "paddingInner": 0, "paddingOuter": 0}, "axis": null}, "text": {"field": "price"}}},
                {"mark": {"type": "text", "fontSize": 11.5, "fontWeight": "bold", "color": "#ffff00", "align": "left", "baseline": "middle"},
                 "encoding": {"x": {"field": "lab", "type": "nominal", "bandPosition": 0.51, "scale": {"type": "band", "paddingInner": 0, "paddingOuter": 0}, "axis": null}, "text": {"field": "qty"}}}
              ]
            },
            {
              "width": 125, "height": 16,
              "data": {"values": [{"lab": "买入", "price": "1260.24", "qty": "0"}]},
              "layer": [
                {"mark": {"type": "text", "fontSize": 8.5, "color": "#c8c8c8", "align": "left", "baseline": "middle"},
                 "encoding": {"x": {"field": "lab", "type": "nominal", "bandPosition": 0.03, "scale": {"type": "band", "paddingInner": 0, "paddingOuter": 0}, "axis": null}, "text": {"field": "lab"}}},
                {"mark": {"type": "text", "fontSize": 11.5, "fontWeight": "bold", "color": "#ff3030", "align": "center", "baseline": "middle"},
                 "encoding": {"x": {"field": "lab", "type": "nominal", "bandPosition": 0.33, "scale": {"type": "band", "paddingInner": 0, "paddingOuter": 0}, "axis": null}, "text": {"field": "price"}}},
                {"mark": {"type": "text", "fontSize": 11.5, "fontWeight": "bold", "color": "#ffff00", "align": "left", "baseline": "middle"},
                 "encoding": {"x": {"field": "lab", "type": "nominal", "bandPosition": 0.51, "scale": {"type": "band", "paddingInner": 0, "paddingOuter": 0}, "axis": null}, "text": {"field": "qty"}}}
              ]
            },
            {
              "width": 125, "height": 48,
              "data": {"values": [
                {"r":0,"col":"A","lab":"最新","val":"1260.24","d":"up"},
                {"r":0,"col":"B","lab":"均价","val":"1260.95","d":"up"},
                {"r":1,"col":"A","lab":"涨跌","val":"0.44","d":"up"},
                {"r":1,"col":"B","lab":"昨结","val":"1259.80","d":"none"},
                {"r":2,"col":"A","lab":"幅度","val":"0.03%","d":"up"},
                {"r":2,"col":"B","lab":"开盘","val":"1260.32","d":"up"},
                {"r":3,"col":"A","lab":"总手","val":"0","d":"none"},
                {"r":3,"col":"B","lab":"最高","val":"1262.65","d":"up"},
                {"r":4,"col":"A","lab":"持仓","val":"—","d":"none"},
                {"r":4,"col":"B","lab":"最低","val":"1259.24","d":"down"}
              ]},
              "layer": [
                {"mark": {"type": "text", "fontSize": 8, "color": "#c8c8c8", "align": "left", "baseline": "middle"},
                 "encoding": {
                   "x": {"field": "col", "type": "nominal", "bandPosition": 0.04, "scale": {"type": "band", "paddingInner": 0.05, "paddingOuter": 0.02}, "axis": null},
                   "y": {"field": "r", "type": "ordinal", "scale": {"type": "point", "padding": 0.5}, "axis": null},
                   "text": {"field": "lab"}}},
                {"mark": {"type": "text", "fontSize": 8, "align": "right", "baseline": "middle"},
                 "encoding": {
                   "x": {"field": "col", "type": "nominal", "bandPosition": 0.99, "scale": {"type": "band", "paddingInner": 0.05, "paddingOuter": 0.02}, "axis": null},
                   "y": {"field": "r", "type": "ordinal", "scale": {"type": "point", "padding": 0.5}, "axis": null},
                   "text": {"field": "val"},
                   "color": {"field": "d", "type": "nominal", "scale": {"domain": ["up","down","none"], "range": ["#ff3b3b","#22e022","#e6e6e6"]}, "legend": null}}}
              ]
            },
            {
              "width": 125, "height": 10,
              "view": {"fill": "#3a3a3a", "stroke": "#8c0000"},
              "data": {"values": [{"col":"a","t":"单位"},{"col":"b","t":"元/克"},{"col":"c","t":"✔美元/盎司"}]},
              "layer": [
                {"transform": [{"filter": "datum.col == 'a'"}],
                 "mark": {"type": "text", "fontSize": 8, "color": "#c8c8c8", "align": "center", "baseline": "middle"},
                 "encoding": {"x": {"field": "col", "type": "nominal", "bandPosition": 0.25, "scale": {"type": "band", "domain": ["a","b","c"], "paddingInner": 0, "paddingOuter": 0}, "axis": null}, "text": {"field": "t"}}},
                {"transform": [{"filter": "datum.col == 'b'"}],
                 "mark": {"type": "text", "fontSize": 8, "color": "#c8c8c8", "align": "center", "baseline": "middle"},
                 "encoding": {"x": {"field": "col", "type": "nominal", "bandPosition": 0.23, "scale": {"type": "band", "domain": ["a","b","c"], "paddingInner": 0, "paddingOuter": 0}, "axis": null}, "text": {"field": "t"}}},
                {"transform": [{"filter": "datum.col == 'c'"}],
                 "mark": {"type": "text", "fontSize": 8, "color": "#eeeeee", "align": "center", "baseline": "middle"},
                 "encoding": {"x": {"field": "col", "type": "nominal", "bandPosition": 0.45, "scale": {"type": "band", "domain": ["a","b","c"], "paddingInner": 0, "paddingOuter": 0}, "axis": null}, "text": {"field": "t"}}}
              ]
            },
            {
              "width": 125, "height": 286,
              "data": {"name": "ticks"},
              "transform": [{"fold": ["tm","p","q"], "as": ["col","t"]}],
              "layer": [
                {"transform": [{"filter": "datum.col == 'tm'"}],
                 "mark": {"type": "text", "fontSize": 8, "align": "right", "baseline": "middle"},
                 "encoding": {
                   "x": {"field": "col", "type": "nominal", "bandPosition": 0.567, "scale": {"type": "band", "domain": ["tm","p","q"], "paddingInner": 0, "paddingOuter": 0}, "axis": null},
                   "y": {"field": "k", "type": "ordinal", "scale": {"type": "point", "padding": 0.9, "align": 0.35}, "axis": null},
                   "text": {"field": "t"},
                   "color": {"condition": {"test": "datum.k == 0", "value": "#a0a0a0"}, "value": "#e6e6e6"}}},
                {"transform": [{"filter": "datum.col == 'p'"}],
                 "mark": {"type": "text", "fontSize": 8, "fontWeight": "bold", "align": "center", "baseline": "middle"},
                 "encoding": {
                   "x": {"field": "col", "type": "nominal", "bandPosition": 0.5, "scale": {"type": "band", "domain": ["tm","p","q"], "paddingInner": 0, "paddingOuter": 0}, "axis": null},
                   "y": {"field": "k", "type": "ordinal", "scale": {"type": "point", "padding": 0.9, "align": 0.35}, "axis": null},
                   "text": {"field": "t"},
                   "color": {"condition": {"test": "datum.k == 0", "value": "#a0a0a0"}, "value": "#ff3b3b"}}},
                {"transform": [{"filter": "datum.col == 'q'"}],
                 "mark": {"type": "text", "fontSize": 8, "align": "right", "baseline": "middle"},
                 "encoding": {
                   "x": {"field": "col", "type": "nominal", "bandPosition": 0.95, "scale": {"type": "band", "domain": ["tm","p","q"], "paddingInner": 0, "paddingOuter": 0}, "axis": null},
                   "y": {"field": "k", "type": "ordinal", "scale": {"type": "point", "padding": 0.9, "align": 0.35}, "axis": null},
                   "text": {"field": "t"},
                   "color": {"condition": {"test": "datum.k == 0", "value": "#a0a0a0"}, "value": "#e6e6e6"}}}
              ]
            }
          ]
        }
      ]
    },
    {
      "width": 800, "height": 7,
      "view": {"stroke": null, "fill": "#d4d0c8"},
      "resolve": {"scale": {"x": "independent"}},
      "layer": [
        {
          "data": {"values": [
            {"item":"a","t":"2510.78","d":"down"},{"item":"b","t":"-25.49","d":"down"},{"item":"c","t":"575.68亿","d":"none"},
            {"item":"e","t":"深","d":"none"},{"item":"f","t":"7337.25","d":"down"},{"item":"g","t":"-89.19","d":"down"},
            {"item":"h","t":"795.26亿","d":"none"},{"item":"j","t":"300","d":"none"},{"item":"k","t":"3025.14","d":"down"},
            {"item":"m","t":"-42.28","d":"down"},{"item":"n","t":"487.77亿","d":"none"}
          ]},
          "mark": {"type": "text", "fontSize": 6.2, "align": "left", "baseline": "middle"},
          "encoding": {
            "x": {"field": "item", "type": "nominal", "scale": {"type": "point", "domain": ["a","b","c","e","f","g","h","j","k","m","n"], "range": [8, 330]}, "axis": null},
            "text": {"field": "t"},
            "color": {"field": "d", "type": "nominal", "scale": {"domain": ["down","none"], "range": ["#168f16","#303030"]}, "legend": null}
          }
        },
        {
          "data": {"values": [{"item":"pobo","t":"Pobo","d":"none"},{"item":"clock","t":"11:37","d":"none"}]},
          "mark": {"type": "text", "fontSize": 6.2, "fontWeight": "bold", "align": "left", "baseline": "middle"},
          "encoding": {
            "x": {"field": "item", "type": "nominal", "scale": {"type": "point", "domain": ["pobo","clock"], "range": [745, 781]}, "axis": null},
            "text": {"field": "t"},
            "color": {"field": "d", "type": "nominal", "scale": {"domain": ["down","none"], "range": ["#168f16","#303030"]}, "legend": null}
          }
        }
      ]
    }
  ]
}
